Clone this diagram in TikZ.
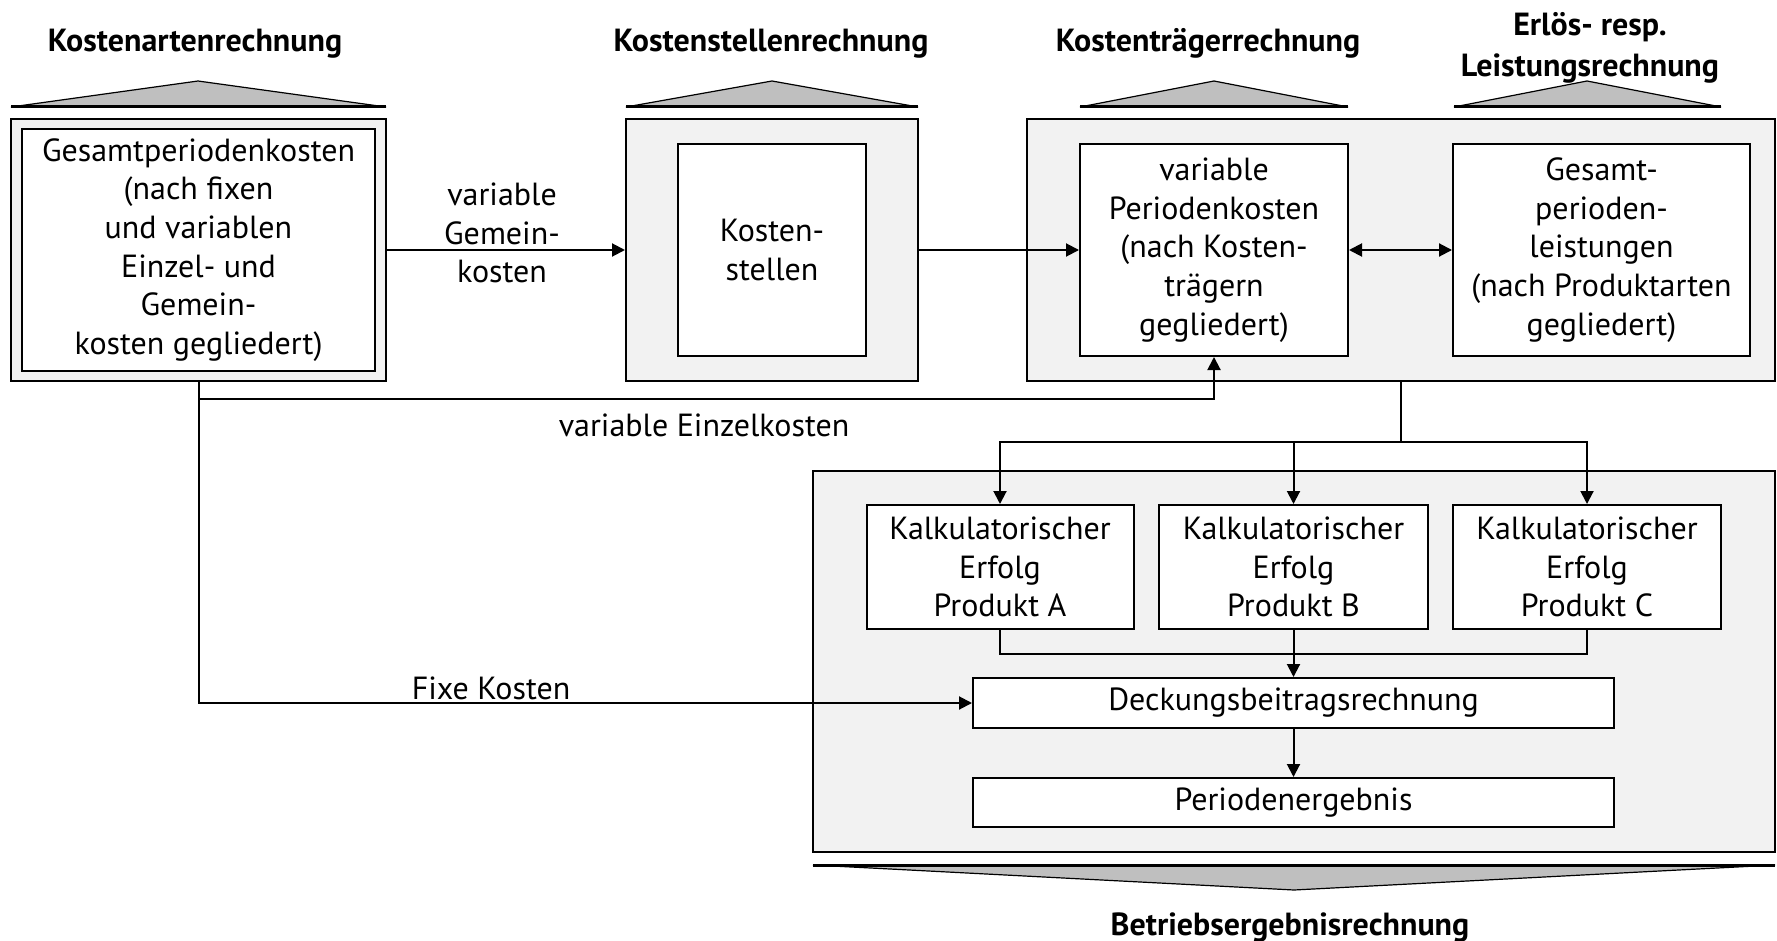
\documentclass[tikz,border=0pt]{standalone}
\usepackage{fontspec}
\setmainfont{PT Sans}
\usetikzlibrary{arrows.meta}
\definecolor{boxgray}{HTML}{F2F2F2}
\definecolor{roofgray}{HTML}{BFBFBF}

\begin{document}
\begin{tikzpicture}[x=0.5pt, y=-0.5pt, node distance=146.75pt, line width=1pt,
                    font=\fontsize{16}{19.3}\selectfont,
                    >={Triangle[length=6.5pt,width=6.5pt]},
                    outerbox/.style={rectangle, draw, fill=boxgray, minimum height=131pt, inner sep=0pt},
                    block/.style={rectangle, draw, fill=white, align=center, inner sep=0pt},
                    heading/.style={font=\fontsize{16}{20.5}\selectfont\bfseries, align=center, inner sep=0pt, anchor=base},
                    roof/.style={draw, fill=roofgray, line width=0.6pt}]
  \useasboundingbox (0,0) rectangle (1777,941);
  \foreach \l/\m/\r in {11/198/386, 626/772/918, 1080/1214/1348, 1454/1587/1721} {
    \draw[roof] (\l,107) -- (\m,81) -- (\r,107) -- cycle;
    \draw[line width=1.5pt] (\l,107) -- (\r,107);
  }
  \draw[roof] (813,865) -- (1294,890) -- (1775,865) -- cycle;
  \draw[line width=1.5pt] (813,865) -- (1775,865);

  \node[heading] (kaTitle) at (195,52) {Kostenartenrechnung};
  \node[heading] (ksTitle) at (771,52) {Kostenstellenrechnung};
  \node[heading] (ktTitle) at (1208,52) {Kostenträgerrechnung};
  \node[heading, anchor=north] (elTitle) at (1590,11) {Erlös- resp.\\Leistungsrechnung};
  \node[heading] (beTitle) at (1290,935) {Betriebsergebnisrechnung};

  \node[outerbox, minimum width=187.5pt] (kaOuter) at (198.5,250) {};
  \node[block, minimum width=176.5pt, minimum height=121pt] (kaBox) at (kaOuter) {Gesamtperiodenkosten\\(nach fixen\\und variablen\\Einzel- und\\Gemein-\\kosten gegliedert)};
  \node[outerbox, minimum width=146pt] (ksOuter) at (772,250) {};
  \node[block, minimum width=94pt, minimum height=106pt] (ksBox) at (ksOuter) {Kosten-\\stellen};
  \node[outerbox, minimum width=374pt] (ktOuter) at (1401,250) {};
  \node[block, minimum width=134pt, minimum height=106pt] (ktBox) at (1214,250) {variable\\Periodenkosten\\(nach Kosten-\\trägern\\gegliedert)};
  \node[block, minimum width=148.5pt, minimum height=106pt] (elBox) at (1601.5,250) {Gesamt-\\perioden-\\leistungen\\(nach Produktarten\\gegliedert)};

  \node[outerbox, minimum width=481pt, minimum height=190.5pt] (beOuter) at (1294,661.5) {};
  \node[block, minimum width=133.5pt, minimum height=62pt] (kalkA) at (1000,567) {Kalkulatorischer\\Erfolg\\Produkt A};
  \node[block, minimum width=134.5pt, minimum height=62pt, right of=kalkA] (kalkB) {Kalkulatorischer\\Erfolg\\Produkt B};
  \node[block, minimum width=134pt, minimum height=62pt, right of=kalkB] (kalkC) {Kalkulatorischer\\Erfolg\\Produkt C};
  \node[block, minimum width=320.5pt, minimum height=25pt, below of=kalkB, node distance=68pt] (dbBox) {Deckungsbeitragsrechnung};
  \node[block, minimum width=320.5pt, minimum height=24.5pt, below of=dbBox, node distance=49.75pt] (peBox) {Periodenergebnis};

  \node[align=center] (gemLabel) at (502,233) {variable\\Gemein-\\kosten};
  \node (ekLabel) at (704,425) {variable Einzelkosten};
  \node (fkLabel) at (491,688) {Fixe Kosten};

  \draw[->] (kaOuter) -- (ksOuter);
  \draw[->] (ksOuter) -- (ktBox);
  \draw[<->] (ktBox) -- (elBox);
  \draw[->] (kaOuter.south) -- ++(0,17) -| (ktBox.south);
  \draw[->] (kaOuter.south) |- (dbBox.west);
  \draw (ktOuter.south) -- ++(0,60) coordinate (split);
  \foreach \k in {kalkA, kalkB, kalkC}
    \draw[->] (split) -| (\k.north);
  \draw (kalkA.south) -- ++(0,24) -| (kalkC.south);
  \draw[->] (kalkB.south) -- (dbBox.north);
  \draw[->] (dbBox) -- (peBox);
\end{tikzpicture}
\end{document}
